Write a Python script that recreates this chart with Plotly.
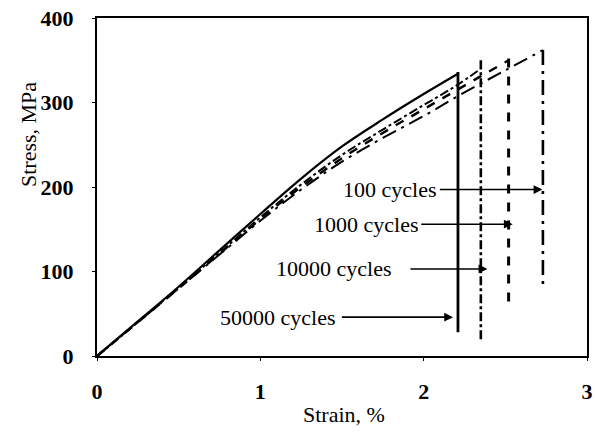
import plotly.graph_objects as go

# ---- data ----
strain_50000 = [0, 0.25, 0.5, 0.75, 1.0, 1.25, 1.5, 1.75, 2.0, 2.21]
stress_50000 = [0, 41, 82, 125, 168, 210, 248, 280, 310, 334]
strain_10000 = [0, 0.25, 0.5, 0.75, 1.0, 1.25, 1.5, 1.75, 2.0, 2.2, 2.35]
stress_10000 = [0, 40, 81, 122, 164, 203, 238, 268, 297, 320, 340]
strain_1000 = [0, 0.25, 0.5, 0.75, 1.0, 1.25, 1.5, 1.75, 2.0, 2.25, 2.52]
stress_1000 = [0, 40, 80, 121, 162, 200, 234, 264, 292, 320, 350]
strain_100 = [0, 0.25, 0.5, 0.75, 1.0, 1.25, 1.5, 1.75, 2.0, 2.25, 2.5, 2.73]
stress_100 = [0, 40, 80, 120, 160, 197, 230, 258, 284, 312, 338, 362]

# failure drop lines (strain, top stress, bottom stress)
fail_strain = [2.21, 2.35, 2.52, 2.73]
fail_top = [336, 350, 352, 362]
fail_bottom = [28, 18, 64, 82]

labels = ["50000 cycles", "10000 cycles", "1000 cycles", "100 cycles"]
label_y = [46, 103, 156, 197]
label_text_end = [1.47, 1.81, 1.976, 2.09]
arrow_start = [1.49, 1.91, 1.976, 2.09]
arrow_head = [2.18, 2.39, 2.545, 2.727]

x_ticks = [0, 1, 2, 3]
y_ticks = [0, 100, 200, 300, 400]

series = [
    (strain_50000, stress_50000, "solid", 2.2),
    (strain_10000, stress_10000, "dashdot", 2.0),
    (strain_1000, stress_1000, "dash", 2.4),
    (strain_100, stress_100, "longdashdot", 2.0),
]

fig = go.Figure()
for i, (sx, sy, dash, w) in enumerate(series):
    fig.add_trace(go.Scatter(x=sx, y=sy, mode="lines", name=labels[i],
                             line=dict(color="black", width=w, dash=dash, shape="spline"),
                             showlegend=False))
    fig.add_trace(go.Scatter(x=[fail_strain[i], fail_strain[i]],
                             y=[fail_top[i], fail_bottom[i]], mode="lines",
                             line=dict(color="black", width=w + 0.6, dash=dash),
                             showlegend=False))

font_family = "Liberation Serif"
for i in range(4):
    fig.add_annotation(x=label_text_end[i], y=label_y[i], text=labels[i],
                       showarrow=False, xanchor="right", yanchor="middle",
                       font=dict(family=font_family, size=22, color="black"))
    fig.add_annotation(x=arrow_head[i], y=label_y[i], ax=arrow_start[i], ay=label_y[i],
                       xref="x", yref="y", axref="x", ayref="y", text="",
                       showarrow=True, arrowhead=2, arrowsize=1.1, arrowwidth=1.6,
                       arrowcolor="black")

fig.add_annotation(x=(344 - 97) / 490, y=(356 - 415) / 338, xref="paper", yref="paper",
                   text="Strain, %", showarrow=False, xanchor="center", yanchor="middle",
                   font=dict(family=font_family, size=22, color="black"))
fig.add_annotation(x=(28 - 97) / 490, y=(356 - 135) / 338, xref="paper", yref="paper",
                   text="Stress, MPa", showarrow=False, textangle=-90,
                   xanchor="center", yanchor="middle",
                   font=dict(family=font_family, size=22, color="black"))

axis_common = dict(showgrid=False, zeroline=False, showline=True, linecolor="black",
                   linewidth=2, mirror=True, ticks="outside", ticklen=3,
                   tickcolor="black", tickwidth=1, automargin=False,
                   tickfont=dict(family=font_family, size=22, color="black", weight="bold"))

fig.update_xaxes(range=[0, 3], tickvals=x_ticks, ticktext=[str(v) for v in x_ticks],
                 ticklabelstandoff=12, **axis_common)
fig.update_yaxes(range=[0, 400], tickvals=y_ticks, ticktext=[str(v) for v in y_ticks],
                 ticklabelstandoff=14, **axis_common)

fig.update_layout(width=595, height=432, margin=dict(l=97, r=8, t=18, b=76),
                  paper_bgcolor="white", plot_bgcolor="white")

fig.write_html("out.html", config={"displayModeBar": False},
               post_script="document.body.style.margin='0px';")
